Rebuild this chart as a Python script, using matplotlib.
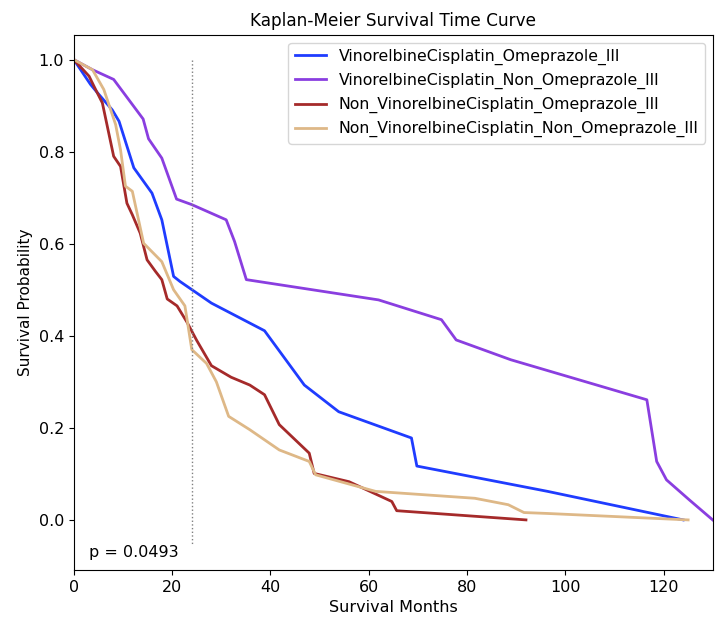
import matplotlib
matplotlib.use("Agg")
import matplotlib.pyplot as plt

# VinorelbineCisplatin_Omeprazole_III
vc_ome_t = [0, 3.4, 4.8, 7.8, 9.2, 12.2, 15.9, 17.9, 20.3, 21.6, 28.0, 38.8,
            46.9, 53.9, 68.7, 69.8, 96.4, 124]
vc_ome_s = [1.0, 0.946, 0.928, 0.891, 0.866, 0.765, 0.710, 0.652, 0.529, 0.518,
            0.471, 0.411, 0.293, 0.235, 0.178, 0.117, 0.062, 0.0]

# VinorelbineCisplatin_Non_Omeprazole_III
vc_non_t = [0, 3.8, 8.1, 14.1, 15.2, 17.9, 20.9, 24, 31, 32.7, 35.1, 62, 74.8,
            77.8, 88.9, 116.6, 118.6, 120.6, 125.3, 130]
vc_non_s = [1.0, 0.978, 0.957, 0.871, 0.828, 0.786, 0.697, 0.685, 0.652, 0.605,
            0.522, 0.478, 0.435, 0.391, 0.348, 0.261, 0.127, 0.087, 0.043, 0.0]

# Non_VinorelbineCisplatin_Omeprazole_III
nvc_ome_t = [0, 3.1, 4.1, 5.8, 8.1, 9.5, 10.8, 11.9, 13.5, 14.9, 16.6, 17.9,
             19, 21, 23, 25, 28, 32, 35.8, 38.8, 41.8, 47.9, 48.9, 56, 64.7,
             65.7, 92]
nvc_ome_s = [1.0, 0.964, 0.942, 0.906, 0.79, 0.768, 0.688, 0.663, 0.623, 0.565,
             0.54, 0.522, 0.48, 0.465, 0.43, 0.39, 0.335, 0.31, 0.293, 0.272,
             0.207, 0.145, 0.101, 0.083, 0.04, 0.02, 0.0]

# Non_VinorelbineCisplatin_Non_Omeprazole_III
nvc_non_t = [0, 3.8, 6.1, 8.5, 9.5, 10.5, 11.9, 14.2, 17.9, 20.3, 22.6, 24,
             27, 29, 31.5, 35.8, 41.8, 47.9, 49.2, 61.4, 81.6, 88.4, 91.6,
             96.4, 125]
nvc_non_s = [1.0, 0.978, 0.935, 0.859, 0.804, 0.725, 0.714, 0.601, 0.561, 0.5,
             0.465, 0.37, 0.34, 0.3, 0.225, 0.196, 0.152, 0.127, 0.098, 0.062,
             0.047, 0.033, 0.016, 0.014, 0.0]

labels = ["VinorelbineCisplatin_Omeprazole_III",
          "VinorelbineCisplatin_Non_Omeprazole_III",
          "Non_VinorelbineCisplatin_Omeprazole_III",
          "Non_VinorelbineCisplatin_Non_Omeprazole_III"]
colors = ["#1f3cff", "#8a3ee0", "#a52a2a", "#deb887"]
p_value = 0.0493
cutoff_month = 24

fig = plt.figure(figsize=(7.17, 6.21), dpi=100)
ax = fig.add_axes([0.103, 0.082, 0.891, 0.862])

series = [(vc_ome_t, vc_ome_s), (vc_non_t, vc_non_s),
          (nvc_ome_t, nvc_ome_s), (nvc_non_t, nvc_non_s)]
for (t, s), lab, col in zip(series, labels, colors):
    ax.plot(t, s, color=col, lw=2, label=lab)

ax.plot([cutoff_month, cutoff_month], [1.0, -0.054], color="gray", ls=":", lw=1)
ax.text(3, -0.07, f"p = {p_value}", fontsize=11.5, va="center")

ax.set_xlim(0, 130)
ax.set_ylim(-0.109, 1.054)
ax.set_xticks([0, 20, 40, 60, 80, 100, 120])
ax.set_yticks([0.0, 0.2, 0.4, 0.6, 0.8, 1.0])
ax.tick_params(labelsize=11.5)
ax.set_title("Kaplan-Meier Survival Time Curve", fontsize=12.2)
ax.set_xlabel("Survival Months", fontsize=11.5)
ax.set_ylabel("Survival Probability", fontsize=11)
ax.legend(loc="upper right", fontsize=11.3)

fig.savefig("out.png", dpi=100)
